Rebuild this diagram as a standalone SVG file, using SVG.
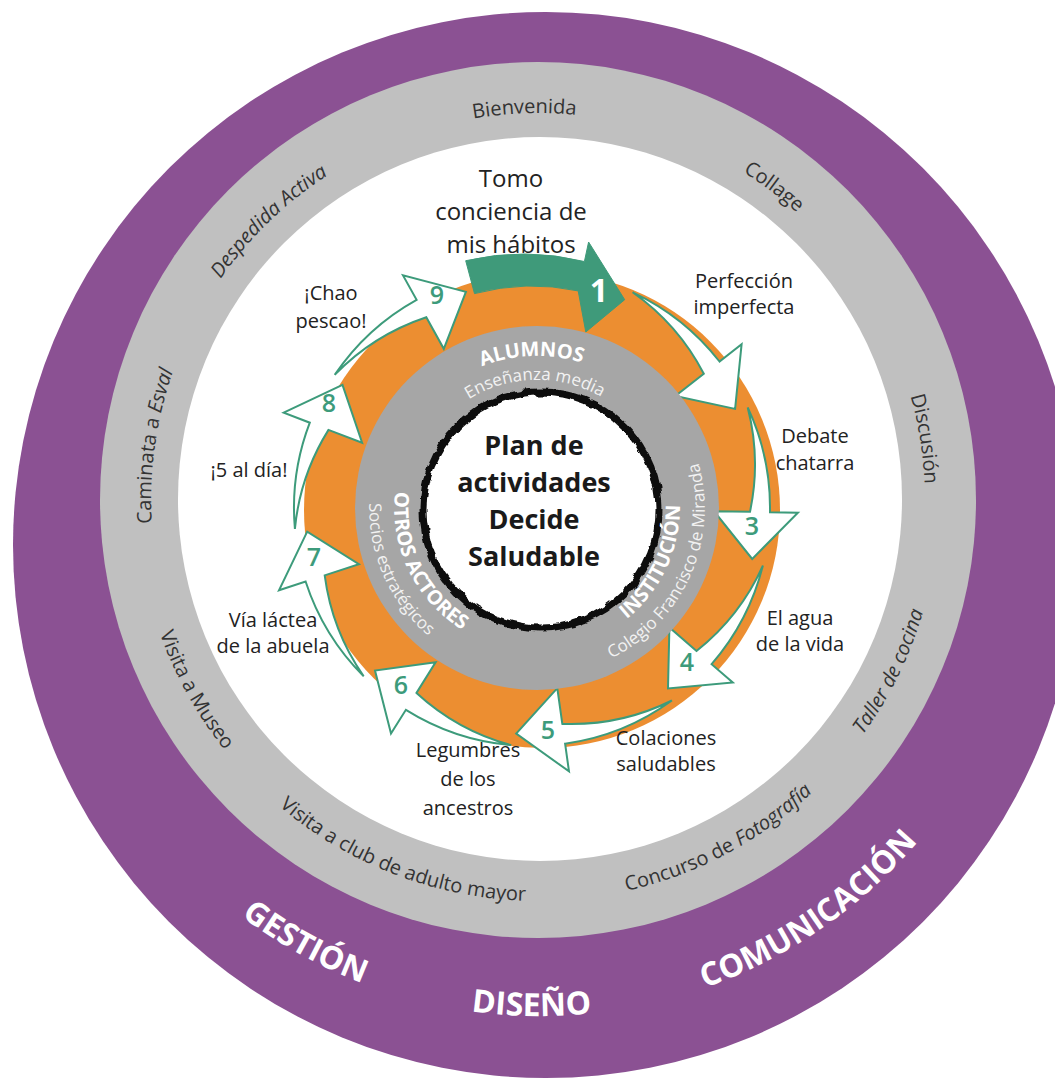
<svg xmlns="http://www.w3.org/2000/svg" width="1055" height="1081" viewBox="0 0 1055 1081">
<defs>
<style>
.ring{font-family:"Open Sans","Noto Sans","DejaVu Sans",sans-serif;font-size:20px;fill:#333;text-anchor:middle}
.lbl{font-family:"Open Sans","Noto Sans","DejaVu Sans",sans-serif;font-size:20px;fill:#222;text-anchor:middle}
.big{font-size:24px}
.num{font-family:"Open Sans","Noto Sans",sans-serif;font-size:25px;font-weight:600;fill:#3d9b7b;text-anchor:middle}
.band{font-family:"Open Sans","Noto Sans",sans-serif;font-size:32px;font-weight:700;fill:#fff;text-anchor:middle}
.ttl{font-family:"Open Sans","Noto Sans",sans-serif;font-size:20px;font-weight:700;fill:#fff;text-anchor:middle}
.sub{font-family:"Open Sans","Noto Sans",sans-serif;font-size:17px;fill:#f2f2f2;text-anchor:middle}
.arw{fill:#fff;stroke:#3d9b7b;stroke-width:2;stroke-linejoin:miter}
.ctr{font-family:"Open Sans","Noto Sans",sans-serif;font-size:27px;font-weight:700;fill:#1a1a1a;text-anchor:middle}
</style>
<path id="cw387" d="M -381.1 -67.2 A 387 387 0 0 1 381.1 -67.2"/>
<path id="ccw401" d="M -394.9 69.6 A 401 401 0 0 0 394.9 69.6"/>
<path id="ccw496" d="M -488.5 86.1 A 496 496 0 0 0 488.5 86.1"/>
<path id="cw152" d="M -149.7 -26.4 A 152 152 0 0 1 149.7 -26.4"/>
<path id="cw128" d="M -126.1 -22.2 A 128 128 0 0 1 126.1 -22.2"/>
<path id="ccw143" d="M -140.8 24.8 A 143 143 0 0 0 140.8 24.8"/>
<path id="ccw168" d="M -165.4 29.2 A 168 168 0 0 0 165.4 29.2"/>
<filter id="rough" x="-10%" y="-10%" width="120%" height="120%">
<feTurbulence type="fractalNoise" baseFrequency="0.09" numOctaves="2" seed="3"/>
<feDisplacementMap in="SourceGraphic" scale="6" xChannelSelector="R" yChannelSelector="G"/>
</filter>
</defs>
<rect width="1055" height="1081" fill="#fff"/>
<g id="rings">
<circle cx="546" cy="545" r="533" fill="#8b5193"/>
<circle cx="538" cy="500" r="438" fill="#c0c0c0"/>
<circle cx="540" cy="499" r="362" fill="#fff"/>
<circle cx="542" cy="510" r="238" fill="#ec8e31"/>
</g>
<g id="connectors">
<path class="arw" d="M 632.6 292.3 A 238 238 0 0 1 719.5 361.5 L 741.6 344.2 L 735.1 408.9 L 675.4 395.9 L 703.8 373.8 A 228 228 0 0 0 632.6 292.3 Z"/>
<path class="arw" d="M 747.7 407.4 A 238 238 0 0 1 770.0 512.2 L 797.9 512.7 L 752.2 558.9 L 714.0 511.2 L 750.0 511.8 A 228 228 0 0 0 747.7 407.4 Z"/>
<path class="arw" d="M 762.9 565.6 A 238 238 0 0 1 711.6 664.2 L 732.8 682.5 L 668.0 688.5 L 669.4 627.4 L 696.5 651.0 A 228 228 0 0 0 762.9 565.6 Z"/>
<path class="arw" d="M 671.9 700.5 A 238 238 0 0 1 565.1 743.7 L 569.0 771.4 L 516.2 733.5 L 557.3 688.2 L 562.3 723.9 A 228 228 0 0 0 671.9 700.5 Z"/>
<path class="arw" d="M 511.2 745.1 A 238 238 0 0 1 405.9 709.8 L 391.0 733.6 L 375.0 670.6 L 435.6 662.3 L 416.5 692.9 A 228 228 0 0 0 511.2 745.1 Z"/>
<path class="arw" d="M 363.7 676.3 A 238 238 0 0 1 305.6 581.5 L 279.0 590.2 L 307.2 531.6 L 358.9 564.2 L 324.7 575.4 A 228 228 0 0 0 363.7 676.3 Z"/>
<path class="arw" d="M 294.9 528.8 A 238 238 0 0 1 309.8 422.7 L 283.7 412.7 L 342.5 384.9 L 362.1 442.8 L 328.5 429.9 A 228 228 0 0 0 294.9 528.8 Z"/>
<path class="arw" d="M 334.7 374.9 A 238 238 0 0 1 416.6 299.8 L 403.0 275.4 L 465.9 291.9 L 443.8 348.8 L 426.3 317.3 A 228 228 0 0 0 334.7 374.9 Z"/>
<path d="M 465.7 260.7 A 254 254 0 0 1 584.4 261.5 L 588.6 242.0 L 624.7 299.7 L 585.8 332.0 L 578.2 290.9 A 222 222 0 0 0 474.5 293.6 Z" fill="#3f9a7a" stroke="#3f9a7a" stroke-width="1"/>
</g>
<g id="core">
<circle cx="537" cy="508" r="182" fill="#a6a6a6"/>
<circle cx="541" cy="510" r="118" fill="#fff"/>
<circle cx="541" cy="510" r="118" fill="none" stroke="#111" stroke-width="7" filter="url(#rough)"/>
</g>
<g id="node-center">
<text class="ctr" x="534" y="455">Plan de</text>
<text class="ctr" x="534" y="492">actividades</text>
<text class="ctr" x="534" y="529">Decide</text>
<text class="ctr" x="534" y="566">Saludable</text>
</g>
<g id="node-alumnos">
<text class="ttl" transform="translate(537 508) rotate(-2)"><textPath href="#cw152" startOffset="50%">ALUMNOS</textPath></text>
<text class="sub" transform="translate(537 508) rotate(-1)"><textPath href="#cw128" startOffset="50%">Enseñanza media</textPath></text>
</g>
<g id="node-otros">
<text class="ttl" transform="translate(537 508) rotate(64)"><textPath href="#ccw143" startOffset="50%">OTROS ACTORES</textPath></text>
<text class="sub" transform="translate(537 508) rotate(66)"><textPath href="#ccw168" startOffset="50%">Socios estratégicos</textPath></text>
</g>
<g id="node-institucion">
<text class="ttl" transform="translate(537 508) rotate(-65)"><textPath href="#ccw143" startOffset="50%">INSTITUCIÓN</textPath></text>
<text class="sub" transform="translate(537 508) rotate(-66)"><textPath href="#ccw168" startOffset="50%">Colegio Francisco de Miranda</textPath></text>
</g>
<g id="node-1">
<text x="599" y="302" font-family="Open Sans, Noto Sans, sans-serif" font-size="32" font-weight="700" fill="#fff" text-anchor="middle">1</text>
<text class="lbl big" x="511" y="187">Tomo</text>
<text class="lbl big" x="511" y="220">conciencia de</text>
<text class="lbl big" x="511" y="253">mis hábitos</text>
</g>
<g id="node-2">
<text class="lbl" x="744" y="288">Perfección</text>
<text class="lbl" x="744" y="314">imperfecta</text>
</g>
<g id="node-3">
<text class="num" x="752" y="535">3</text>
<text class="lbl" x="815" y="443">Debate</text>
<text class="lbl" x="815" y="470">chatarra</text>
</g>
<g id="node-4">
<text class="num" x="687" y="671">4</text>
<text class="lbl" x="800" y="625">El agua</text>
<text class="lbl" x="800" y="651">de la vida</text>
</g>
<g id="node-5">
<text class="num" x="548" y="739">5</text>
<text class="lbl" x="666" y="745">Colaciones</text>
<text class="lbl" x="666" y="771">saludables</text>
</g>
<g id="node-6">
<text class="num" x="401" y="694">6</text>
<text class="lbl" x="468" y="757">Legumbres</text>
<text class="lbl" x="468" y="786">de los</text>
<text class="lbl" x="468" y="815">ancestros</text>
</g>
<g id="node-7">
<text class="num" x="314" y="566">7</text>
<text class="lbl" x="273" y="627">Vía láctea</text>
<text class="lbl" x="273" y="653">de la abuela</text>
</g>
<g id="node-8">
<text class="num" x="329" y="412">8</text>
<text class="lbl" x="249" y="477">¡5 al día!</text>
</g>
<g id="node-9">
<text class="num" x="437" y="304">9</text>
<text class="lbl" x="331" y="300">¡Chao</text>
<text class="lbl" x="331" y="328">pescao!</text>
</g>
<g id="outer-activities">
<text class="ring" transform="translate(538 500) rotate(-2)"><textPath href="#cw387" startOffset="50%">Bienvenida</textPath></text>
<text class="ring" transform="translate(538 500) rotate(37)"><textPath href="#cw387" startOffset="50%">Collage</textPath></text>
<text class="ring" transform="translate(538 500) rotate(81)"><textPath href="#cw387" startOffset="50%">Discusión</textPath></text>
<text class="ring" transform="translate(538 500) rotate(-64)"><textPath href="#ccw401" startOffset="50%" font-style="italic">Taller de cocina</textPath></text>
<text class="ring" transform="translate(538 500) rotate(-28)"><textPath href="#ccw401" startOffset="50%">Concurso de <tspan font-style="italic">Fotografía</tspan></textPath></text>
<text class="ring" transform="translate(538 500) rotate(21)"><textPath href="#ccw401" startOffset="50%">Visita a club de adulto mayor</textPath></text>
<text class="ring" transform="translate(538 500) rotate(61)"><textPath href="#ccw401" startOffset="50%">Visita a Museo</textPath></text>
<text class="ring" transform="translate(538 500) rotate(-82)"><textPath href="#cw387" startOffset="50%">Caminata a <tspan font-style="italic">Esval</tspan></textPath></text>
<text class="ring" transform="translate(538 500) rotate(-44)"><textPath href="#cw387" startOffset="50%" font-style="italic">Despedida Activa</textPath></text>
</g>
<g id="areas">
<text class="band" transform="translate(540 520) rotate(29)"><textPath href="#ccw496" startOffset="50%">GESTIÓN</textPath></text>
<text class="band" transform="translate(540 520) rotate(1)"><textPath href="#ccw496" startOffset="50%">DISEÑO</textPath></text>
<text class="band" transform="translate(540 520) rotate(-34.5)"><textPath href="#ccw496" startOffset="50%">COMUNICACIÓN</textPath></text>
</g>
</svg>
